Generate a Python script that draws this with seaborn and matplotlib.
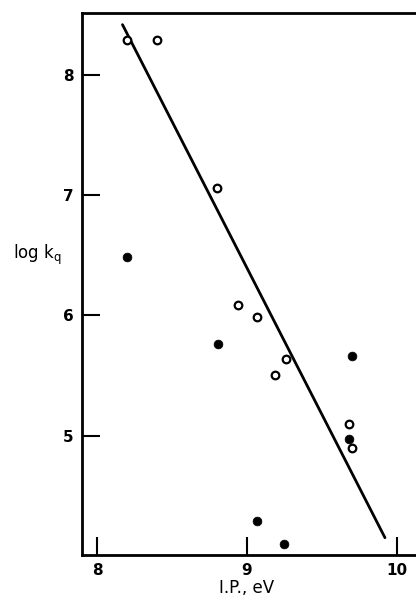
import numpy as np
import pandas as pd
import matplotlib
matplotlib.use("Agg")
import matplotlib.pyplot as plt
import seaborn as sns

# Open circles
open_ip = [8.20, 8.40, 8.80, 8.94, 9.07, 9.26, 9.19, 9.68, 9.70]
open_logk = [8.29, 8.29, 7.06, 6.09, 5.99, 5.64, 5.50, 5.10, 4.90]

# Filled circles
filled_ip = [8.20, 8.81, 9.70, 9.68, 9.07, 9.25]
filled_logk = [6.49, 5.76, 5.66, 4.97, 4.29, 4.10]

# Correlation line (end points)
fit_ip = [8.17, 9.92]
fit_logk = [8.42, 4.15]

x_ticks = [8, 9, 10]
y_ticks = [5, 6, 7, 8]

sns.set_style("white")
plt.rcParams['font.family'] = ['DejaVu Sans']

fig = plt.figure(figsize=(4.16, 5.98), dpi=100)
ax = fig.add_axes([82 / 416, 43 / 598, 334 / 416, 542 / 598])

sns.lineplot(x=fit_ip, y=fit_logk, color='black', linewidth=2, ax=ax)
sns.scatterplot(x=open_ip, y=open_logk, s=30, facecolor='white',
                edgecolor='black', linewidth=1.6, ax=ax, zorder=3)
sns.scatterplot(x=filled_ip, y=filled_logk, s=40, color='black',
                edgecolor='black', linewidth=0.5, ax=ax, zorder=3)

ax.set_xlim(7.9, 10.127)
ax.set_ylim(4.006, 8.517)
ax.set_xticks(x_ticks)
ax.set_yticks(y_ticks)
ax.tick_params(direction='in', length=13, width=1.5, colors='black',
               labelsize=11, pad=6, left=True, bottom=True)

for side in ['left', 'top', 'bottom']:
    ax.spines[side].set_visible(True)
    ax.spines[side].set_color('black')
    ax.spines[side].set_linewidth(2)
ax.spines['right'].set_visible(False)

for lab in ax.get_xticklabels() + ax.get_yticklabels():
    lab.set_fontweight('bold')

ax.set_xlabel('I.P., eV', fontsize=12, color='black', va='center')
ax.xaxis.set_label_coords(0.494, -0.061)
ax.set_ylabel(r'log k$_{\mathregular{q}}$', fontsize=12, rotation=0,
              color='black', va='center', ha='center')
ax.yaxis.set_label_coords(-0.135, 0.553)

fig.savefig('out.png', dpi=100)
